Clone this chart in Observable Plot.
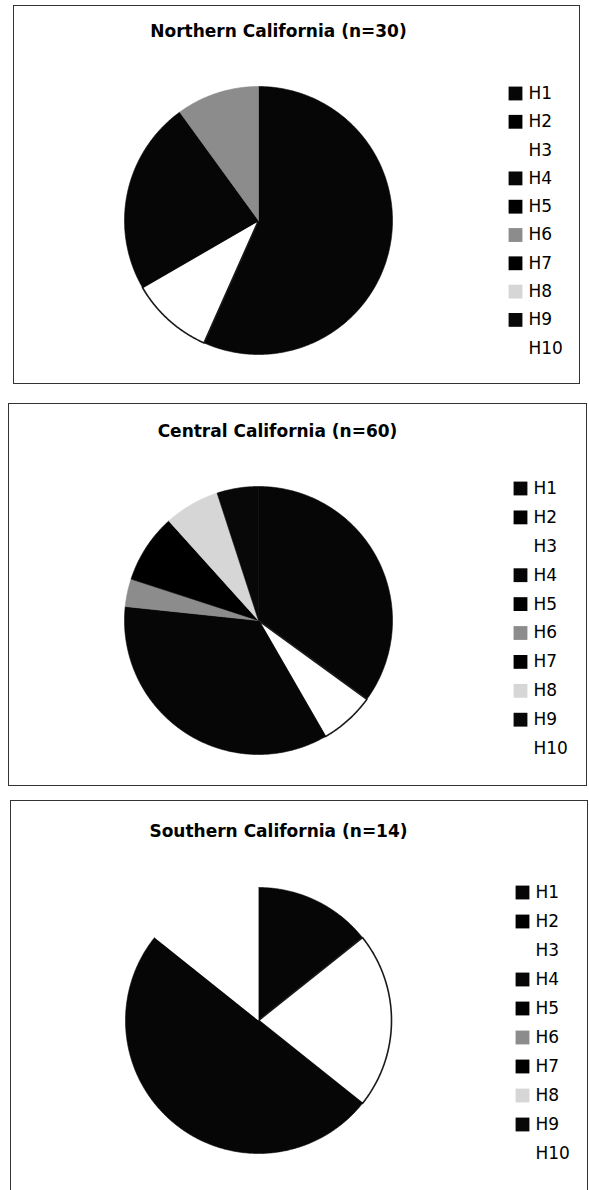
<!DOCTYPE html>
<html>
<head>
<meta charset="utf-8">
<script src="https://cdn.jsdelivr.net/npm/d3@7"></script>
<script src="https://cdn.jsdelivr.net/npm/@observablehq/plot@0.6"></script>
<style>
  html, body { margin: 0; padding: 0; background: #fff; }
  #page { position: relative; width: 589px; height: 1190px; overflow: hidden; background: #fff; }
  .panel { position: absolute; }
  .panel svg { display: block; }
</style>
</head>
<body>
<div id="page"></div>
<script>
// ---- Data ----
const haplotypes = ["H1", "H2", "H3", "H4", "H5", "H6", "H7", "H8", "H9", "H10"];
const northern = [17, 0, 3, 7, 0, 3, 0, 0, 0, 0];
const central  = [21, 0, 4, 21, 0, 2, 5, 4, 3, 0];
const southern = [2, 0, 3, 7, 0, 0, 0, 0, 0, 2];
const titles = ["Northern California (n=30)", "Central California (n=60)", "Southern California (n=14)"];

// ---- Styles (grayscale as scanned) ----
const colors = ["#060606", "#000000", "#ffffff", "#060606", "#000000", "#8c8c8c", "#000000", "#d6d6d6", "#080808", "#ffffff"];
const FONT = "DejaVu Sans, Verdana, sans-serif";

// ---- Layout (pixels) ----
const layouts = [
  {left: 13, top: 5,   w: 566, h: 378, cx: 245, cy: 215, r: 134, titleY: 26, titleX: 265, legX: 502, legY0: 88, legStep: 28.3},
  {left: 8,  top: 403, w: 578, h: 382, cx: 250, cy: 217, r: 134, titleY: 28, titleX: 269, legX: 512, legY0: 85, legStep: 28.9},
  {left: 10, top: 800, w: 577, h: 400, cx: 248, cy: 220, r: 133, titleY: 31, titleX: 268, legX: 512, legY0: 92, legStep: 29.0}
];
const seriesList = [northern, central, southern];

function panel(values, title, L) {
  const rows = haplotypes.map((key, i) => ({key, value: values[i], color: colors[i], i}));
  const arcs = d3.pie().sort(null).value(d => d.value)(rows);
  const marks = [Plot.frame({stroke: "#333", strokeWidth: 1})];

  for (const a of arcs) {
    if (a.value === 0) continue;
    const pts = [[0, 0]];
    const n = Math.max(2, Math.ceil((a.endAngle - a.startAngle) / (Math.PI / 360)));
    for (let j = 0; j <= n; j++) {
      const t = a.startAngle + (a.endAngle - a.startAngle) * j / n;
      pts.push([Math.sin(t), Math.cos(t)]);
    }
    pts.push([0, 0]);
    const key = a.data.key;
    const isWhite = a.data.color === "#ffffff";
    marks.push(Plot.line(pts, {
      x: d => d[0], y: d => d[1],
      fill: a.data.color,
      stroke: key === "H10" ? "none" : (isWhite ? "#1a1a1a" : a.data.color),
      strokeWidth: isWhite ? 1.6 : 0.6,
      strokeLinejoin: "round"
    }));
  }

  // legend positions converted into data units
  const lx = (L.legX - L.cx) / L.r;
  const ly = d => (L.cy - (L.legY0 + d.i * L.legStep)) / L.r;
  marks.push(Plot.dot(rows, {x: () => lx, y: ly, symbol: "square", r: 7.8, fill: d => d.color, stroke: "none"}));
  marks.push(Plot.text(rows, {x: () => lx, y: ly, dx: 13, text: d => d.key, textAnchor: "start",
    fontSize: 17, fontFamily: FONT, fill: "#000", lineAnchor: "middle"}));

  // title
  const tx = (L.titleX - L.cx) / L.r;
  const ty = (L.cy - L.titleY) / L.r;
  marks.push(Plot.text([title], {x: () => tx, y: () => ty, text: d => d,
    fontSize: 17, fontWeight: "bold", fontFamily: FONT, fill: "#000", lineAnchor: "middle"}));

  return Plot.plot({
    width: L.w, height: L.h, margin: 0,
    x: {domain: [-L.cx / L.r, (L.w - L.cx) / L.r], axis: null},
    y: {domain: [-(L.h - L.cy) / L.r, L.cy / L.r], axis: null},
    color: {type: "identity"},
    style: {background: "#fff", fontFamily: FONT, overflow: "visible"},
    marks
  });
}

const page = document.getElementById("page");
layouts.forEach((L, k) => {
  const div = document.createElement("div");
  div.className = "panel";
  div.style.left = L.left + "px";
  div.style.top = L.top + "px";
  div.appendChild(panel(seriesList[k], titles[k], L));
  page.appendChild(div);
});
</script>
</body>
</html>
